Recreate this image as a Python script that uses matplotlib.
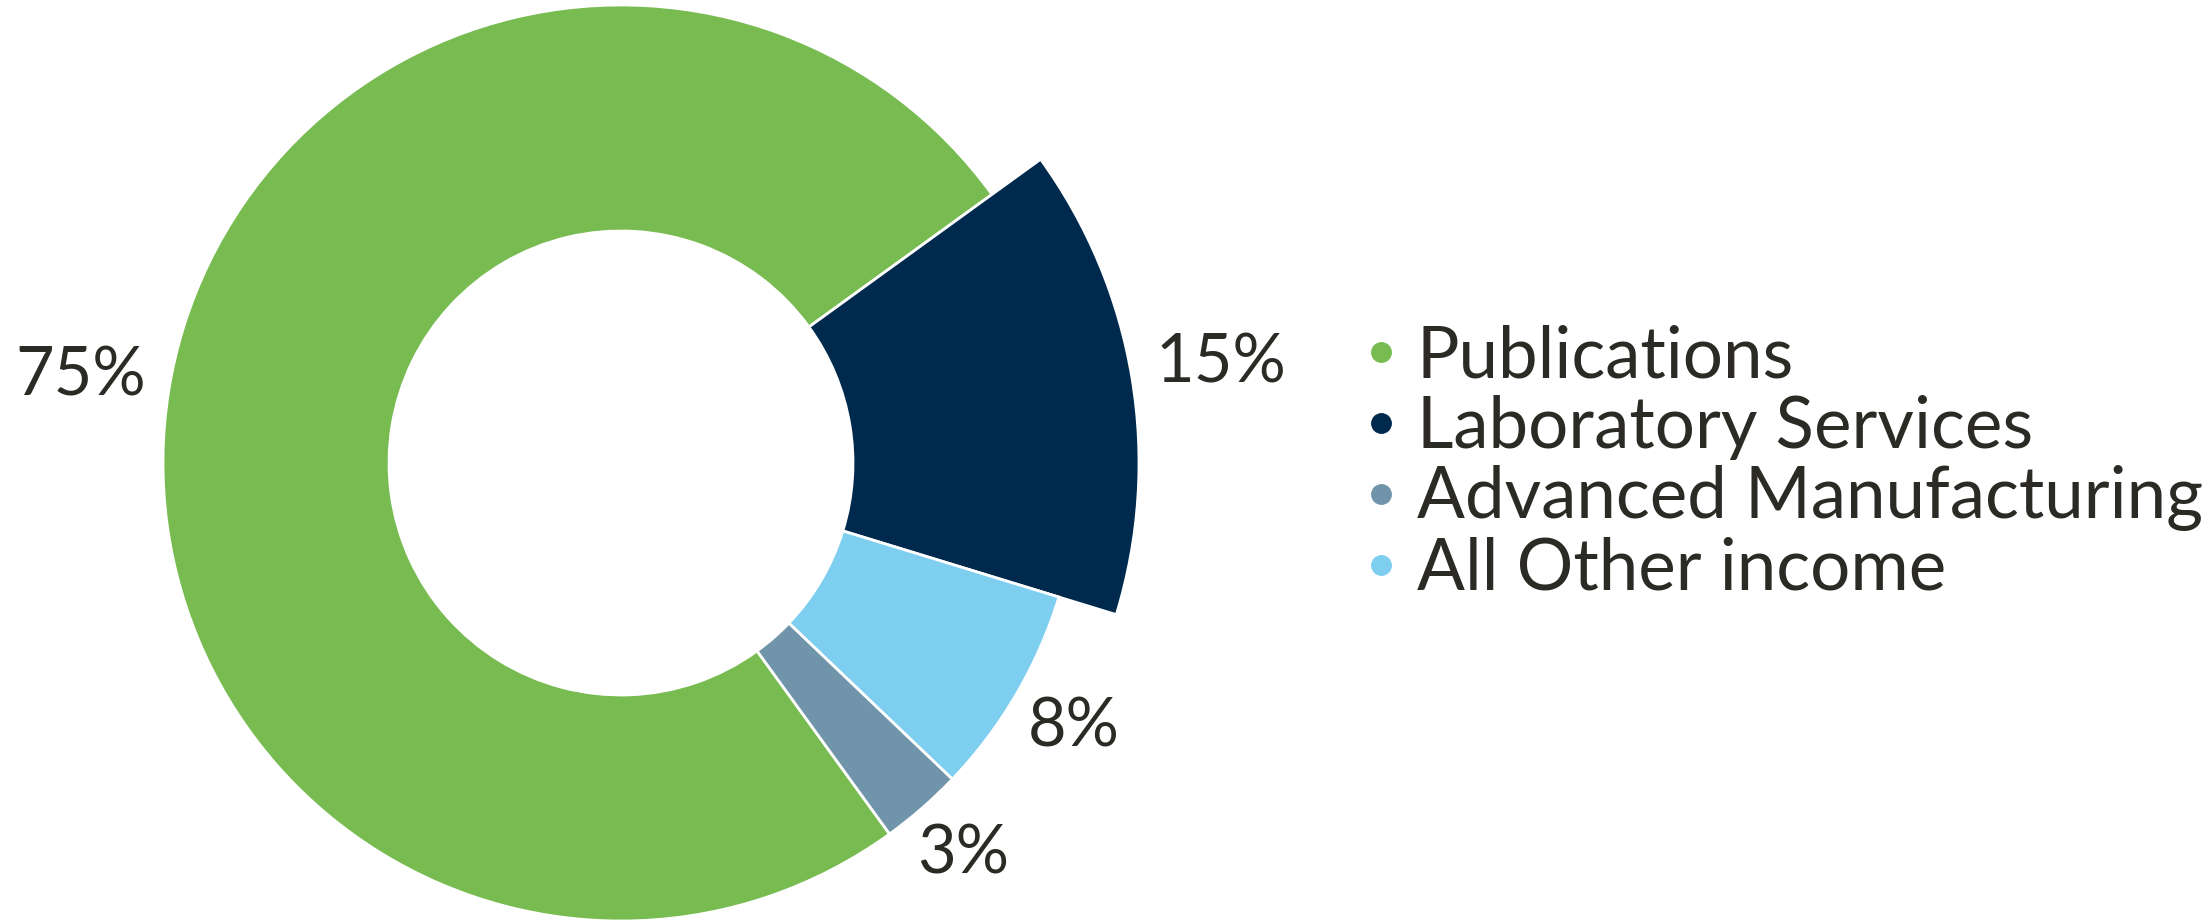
import matplotlib
matplotlib.use('Agg')
import matplotlib.pyplot as plt
import numpy as np
from matplotlib.lines import Line2D

# slices in drawing order (clockwise from the bottom of the ring)
categories = ['Publications', 'Laboratory Services', 'All Other income',
              'Advanced Manufacturing']
values = [75.0, 14.7, 7.4, 2.9]
pct_labels = ['75%', '15%', '8%', '3%']
colors = ['#77bb51', '#002a4d', '#7ecef0', '#7094aa']

# legend order as in the picture
legend_order = ['Publications', 'Laboratory Services', 'Advanced Manufacturing',
                'All Other income']

text_color = '#2b2a25'
plt.rcParams['font.family'] = ['Lato', 'DejaVu Sans']

W, H = 2208, 923
fig = plt.figure(figsize=(W / 100, H / 100), dpi=100)
ax = fig.add_axes([0, 0, 1, 1])

cx, cy = 621, 460
r_out, r_in = 458, 232
wedges, _ = ax.pie(values, colors=colors, startangle=-54.1, counterclock=False,
                   radius=r_out, center=(cx, cy),
                   wedgeprops=dict(width=r_out - r_in, edgecolor='white',
                                   linewidth=2))

# the laboratory slice sticks out further
big = 518
wedges[1].set_radius(big)
wedges[1].set_width(big - r_in)

label_pad = [89, 90, 66, 62]
for w, lab, pad in zip(wedges, pct_labels, label_pad):
    ang = np.deg2rad((w.theta1 + w.theta2) / 2)
    r = w.r + pad
    ax.text(cx + r * np.cos(ang), cy + r * np.sin(ang), lab,
            ha='center', va='center', fontsize=48, color=text_color)

handles = []
for name in legend_order:
    c = colors[categories.index(name)]
    handles.append(Line2D([], [], marker='o', linestyle='none', markersize=14,
                          markerfacecolor=c, markeredgecolor=c, label=name))
leg = ax.legend(handles=handles, loc='center left', bbox_to_anchor=(1363, 460),
                bbox_transform=ax.transData, frameon=False, fontsize=51,
                handlelength=0.5, handletextpad=0.26, borderpad=0,
                borderaxespad=0, labelspacing=0.08, labelcolor=text_color)

ax.set_xlim(0, W)
ax.set_ylim(0, H)
ax.set_aspect('equal')
ax.axis('off')

fig.savefig('out.png', dpi=100, facecolor='white')
